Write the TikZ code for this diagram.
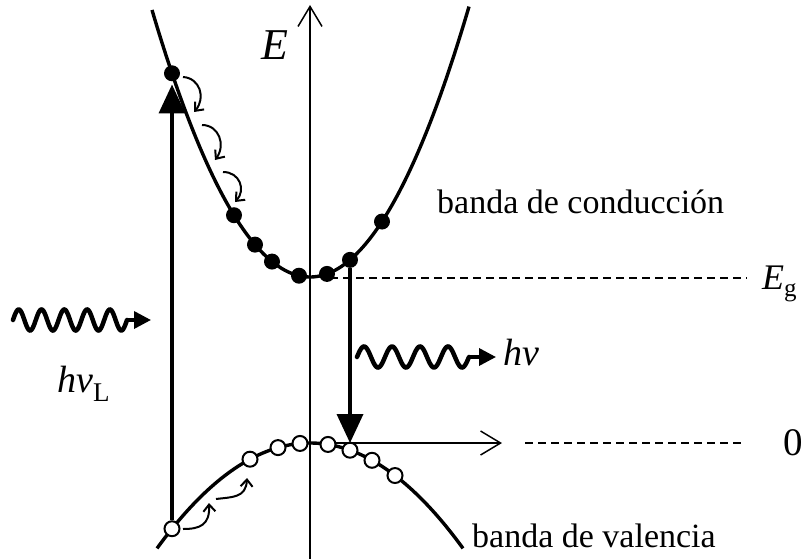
\documentclass[tikz,border=0pt]{standalone}
\usepackage{fontspec}
\setmainfont{Liberation Serif}
\usetikzlibrary{arrows.meta}
\begin{document}
\begin{tikzpicture}[x=1pt,y=-1pt,
  band/.style={line width=3.4pt},
  axisline/.style={line width=1.5pt},
  axisarrow/.style={axisline,-{Straight Barb[length=20pt,width=24pt]}},
  dashline/.style={line width=1.4pt,dash pattern=on 8pt off 5pt},
  cdot/.style={circle,fill=black,inner sep=0pt,minimum size=16pt},
  vdot/.style={circle,draw=black,fill=white,line width=2pt,inner sep=0pt,minimum size=15pt},
  bigarrow/.style={line width=3.6pt,-{Triangle[length=29pt,width=26pt]}},
  hook/.style={line width=2pt,-{Straight Barb[length=7pt,width=12pt]}},
  wave/.style={line width=4.5pt,line cap=round},
  wavetip/.style={line width=3.5pt,-{Triangle[length=17pt,width=17pt]}},
  lbl/.style={font=\fontsize{34}{40}\selectfont,inner sep=0pt},
  big/.style={font=\fontsize{38}{44}\selectfont,inner sep=0pt}
]
\useasboundingbox (0,0) rectangle (808,559);

% axes
\coordinate (ybot) at (310,559);
\coordinate (ytop) at (310,5);
\coordinate (xorg) at (310,443);
\coordinate (xend) at (502,443);
\draw[axisarrow] (ybot) -- (ytop);
\draw[axisarrow] (xorg) -- (xend);
\node[inner sep=0pt,anchor=base west,font=\fontsize{44}{50}\selectfont\itshape] (Elab) at (261,60) {E};

% dashed levels
\coordinate (eg1) at (330,278);
\coordinate (eg2) at (747,278);
\coordinate (z1) at (525,443);
\coordinate (z2) at (745,443);
\draw[dashline] (eg1) -- (eg2);
\draw[dashline] (z1) -- (z2);
\node[inner sep=0pt,anchor=base west,font=\fontsize{36}{40}\selectfont] (Eg) at (762,289) {\textit{E}\raisebox{-0.22em}{\fontsize{25}{28}\selectfont g}};
\node[inner sep=0pt,anchor=base west,font=\fontsize{39}{44}\selectfont] (zero) at (783,455) {0};

% bands
\draw[band] plot[domain=152:469,samples=120,smooth] (\x,{277-0.0107*(\x-310)*(\x-310)});
\draw[band] plot[domain=157:463,samples=120,smooth] (\x,{443+0.0045*(\x-310)*(\x-310)});

% electrons
\foreach \x [count=\i] in {172,234,255,272,299,327,350,382}
  \node[cdot] (c\i) at (\x,{277-0.0107*(\x-310)*(\x-310)}) {};

% holes
\foreach \x [count=\i] in {172,250,278,300,328,350,372,395}
  \node[vdot] (v\i) at (\x,{443+0.0045*(\x-310)*(\x-310)}) {};

% excitation
\draw[bigarrow] (v1.north) -- ([yshift=-3pt]c1.south);
% recombination
\coordinate (rt) at (350,443);
\draw[bigarrow] (c7.south) -- (rt);

% relaxation hooks (conduction)
\draw[hook] (183,77) .. controls (200,78) and (206,98) .. (194,112);
\draw[hook] (202,125) .. controls (219,125) and (226,145) .. (215,160);
\draw[hook] (223,172) .. controls (240,172) and (246,190) .. (235,202);
% relaxation hooks (valence)
\draw[hook] (183,529) .. controls (200,529) and (210,525) .. (209,503);
\draw[hook] (216,499) .. controls (232,497) and (246,498) .. (247,478);

% photon in
\coordinate (w1s) at (13,320);
\coordinate (w1e) at (127,320);
\coordinate (w1t) at (151,320);
\draw[wave] plot[domain=13:127,samples=150,smooth] (\x,{320-10.5*sin((\x-13)*15.789)});
\draw[wavetip] (w1e) -- (w1t);
\node[big,anchor=base west] (hvL) at (57,392) {\textit{hν}\raisebox{-0.25em}{\fontsize{27}{30}\selectfont L}};

% photon out
\coordinate (w2e) at (469,357);
\coordinate (w2t) at (496,357);
\draw[wave] plot[domain=357:469,samples=150,smooth] (\x,{357-10.5*sin((\x-357)*12.857)});
\draw[wavetip] (w2e) -- (w2t);
\node[big,anchor=base west] (hv) at (503,365) {\textit{hν}};

% labels
\node[lbl,anchor=base west] (cb) at (437,213) {banda de conducción};
\node[lbl,anchor=base west] (vb) at (472,547) {banda de valencia};
\end{tikzpicture}
\end{document}
